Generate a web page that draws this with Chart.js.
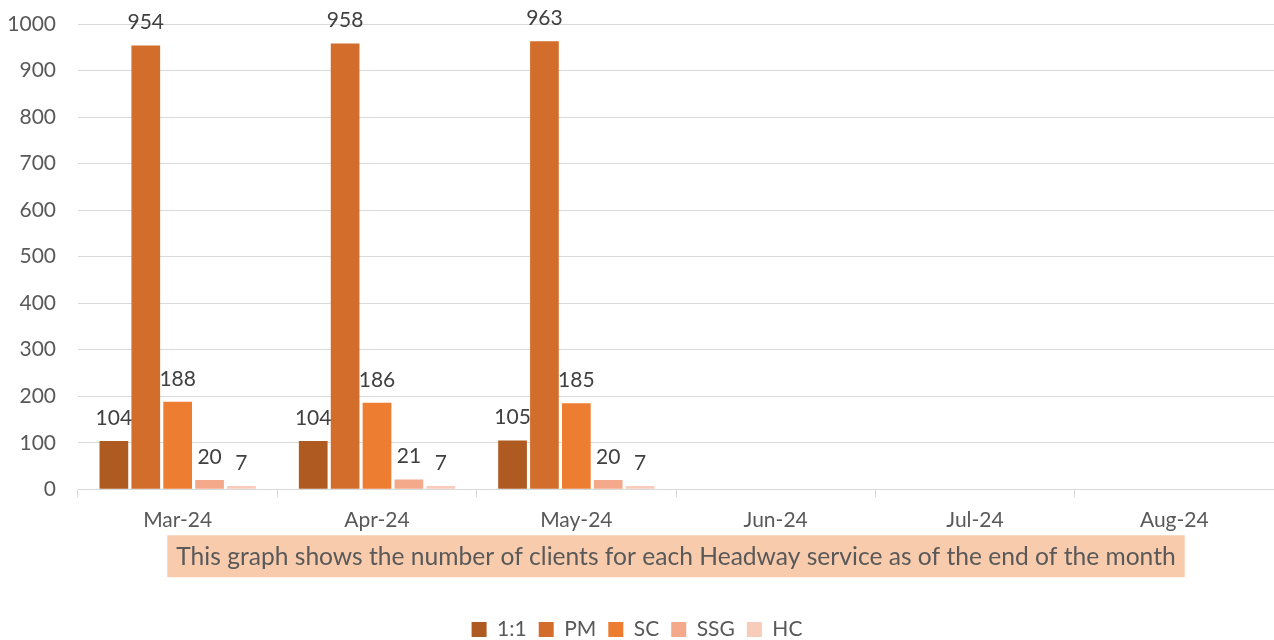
<!DOCTYPE html>
<html>
<head>
<meta charset="utf-8">
<script src="https://cdn.jsdelivr.net/npm/chart.js@4"></script>
<style>
  html, body { margin: 0; padding: 0; background: #fff; }
  #wrap { width: 1274px; height: 640px; position: relative; }
</style>
</head>
<body>
<div id="wrap"><canvas id="myChart"></canvas></div>
<script>
const months = ["Mar-24", "Apr-24", "May-24", "Jun-24", "Jul-24", "Aug-24"];
const oneToOne = [104, 104, 105, null, null, null];
const pm = [954, 958, 963, null, null, null];
const sc = [188, 186, 185, null, null, null];
const ssg = [20, 21, 20, null, null, null];
const hc = [7, 7, 7, null, null, null];
const yTicks = [0, 100, 200, 300, 400, 500, 600, 700, 800, 900, 1000];
const caption = "This graph shows the number of clients for each Headway service as of the end of the month";

const FONT = "Lato, 'Open Sans', sans-serif";
const CAPTION_SIZE = 24.6;

// value labels above bars (Excel style)
const valueLabels = {
  id: "valueLabels",
  afterDatasetsDraw(chart) {
    const c = chart.ctx;
    c.save();
    c.font = "21px " + FONT;
    c.fillStyle = "#404040";
    c.textAlign = "center";
    c.textBaseline = "middle";
    chart.data.datasets.forEach((ds, i) => {
      chart.getDatasetMeta(i).data.forEach((bar, j) => {
        if (ds.data[j] == null) return;
        c.fillText(ds.data[j], bar.x, bar.y - 23);
      });
    });
    c.restore();
  },
};

// peach box behind the x axis title
const captionBox = {
  id: "captionBox",
  beforeDraw(chart) {
    const x = chart.scales.x;
    const c = chart.ctx;
    const opts = x.options.title;
    c.save();
    c.font = CAPTION_SIZE + "px " + FONT;
    const w = c.measureText(caption).width;
    const cx = (chart.chartArea.left + chart.chartArea.right) / 2;
    const cy = x.bottom - opts.padding.bottom - (CAPTION_SIZE * 1.2) / 2;
    c.fillStyle = "#F8CBAD";
    c.fillRect(cx - w / 2 - 9, cy - 22, w + 18, 42);
    c.restore();
  },
};

const ctx = document.getElementById("myChart");
new Chart(ctx, {
  type: "bar",
  data: {
    labels: months,
    datasets: [
      { label: "1:1", data: oneToOne, backgroundColor: "#AE5A21" },
      { label: "PM", data: pm, backgroundColor: "#D26D2B" },
      { label: "SC", data: sc, backgroundColor: "#ED7D31" },
      { label: "SSG", data: ssg, backgroundColor: "#F3A98A" },
      { label: "HC", data: hc, backgroundColor: "#F8CBBA" },
    ],
  },
  options: {
    responsive: true,
    maintainAspectRatio: false,
    animation: false,
    layout: { padding: { top: 24, right: 0, left: 0, bottom: -10 } },
    plugins: {
      legend: {
        position: "bottom",
        labels: {
          font: { size: 21, family: FONT },
          color: "#595959",
          boxWidth: 15,
          boxHeight: 15,
          padding: 12,
        },
      },
      tooltip: { enabled: false },
    },
    scales: {
      x: {
        grid: {
          offset: true,
          drawOnChartArea: false,
          drawTicks: true,
          tickLength: 8,
          color: "#d9d9d9",
        },
        border: { color: "#d9d9d9" },
        ticks: { font: { size: 21, family: FONT }, color: "#595959", padding: 10 },
        categoryPercentage: 0.745,
        barPercentage: 0.82,
        title: {
          display: true,
          text: caption,
          font: { size: CAPTION_SIZE, family: FONT },
          color: "#595959",
          padding: { top: 0, bottom: 35 },
        },
      },
      y: {
        min: 0,
        max: 1000,
        afterBuildTicks(scale) {
          scale.ticks = yTicks.map((v) => ({ value: v }));
        },
        afterFit(scale) {
          scale.width = 78;
          scale.paddingTop = 0; // tick padding would otherwise push the plot down
          scale.paddingBottom = 0;
        },
        grid: { color: "#d9d9d9", drawTicks: false },
        border: { display: false },
        ticks: {
          font: { size: 21, family: FONT },
          color: "#595959",
          padding: 22,
          callback: (v) => String(v),
        },
      },
    },
  },
  plugins: [valueLabels, captionBox],
});
</script>
</body>
</html>
